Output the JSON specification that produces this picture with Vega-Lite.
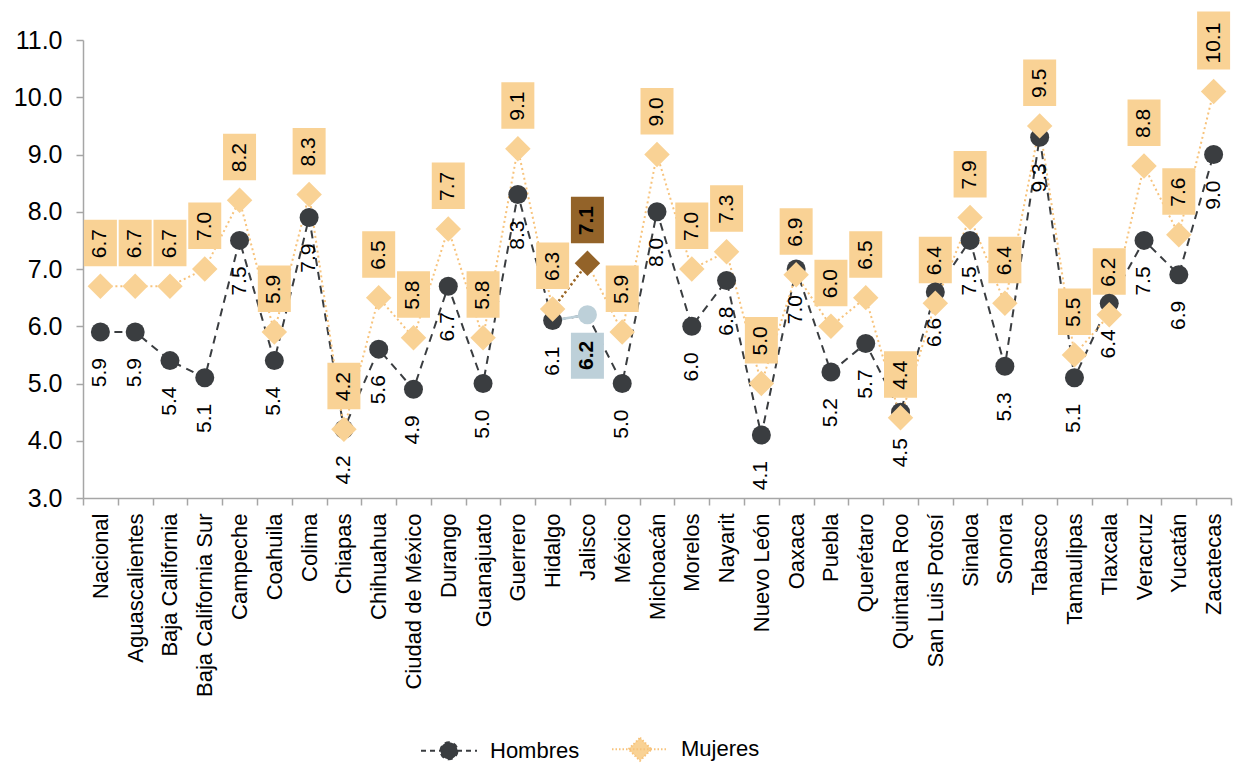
{
  "$schema": "https://vega.github.io/schema/vega-lite/v6.json",
  "width": 1148,
  "height": 458,
  "autosize": "none",
  "padding": {"left": 83, "top": 40, "right": 3, "bottom": 267},
  "background": "white",
  "config": {
    "view": {"stroke": null},
    "font": "Liberation Sans",
    "text": {"font": "Liberation Sans"}
  },
  "data": {
    "values": [
      {"estado": "Nacional", "sexo": "Hombres", "valor": 5.9},
      {"estado": "Aguascalientes", "sexo": "Hombres", "valor": 5.9},
      {"estado": "Baja California", "sexo": "Hombres", "valor": 5.4},
      {"estado": "Baja California Sur", "sexo": "Hombres", "valor": 5.1},
      {"estado": "Campeche", "sexo": "Hombres", "valor": 7.5},
      {"estado": "Coahuila", "sexo": "Hombres", "valor": 5.4},
      {"estado": "Colima", "sexo": "Hombres", "valor": 7.9},
      {"estado": "Chiapas", "sexo": "Hombres", "valor": 4.2},
      {"estado": "Chihuahua", "sexo": "Hombres", "valor": 5.6},
      {"estado": "Ciudad de México", "sexo": "Hombres", "valor": 4.9},
      {"estado": "Durango", "sexo": "Hombres", "valor": 6.7},
      {"estado": "Guanajuato", "sexo": "Hombres", "valor": 5.0},
      {"estado": "Guerrero", "sexo": "Hombres", "valor": 8.3},
      {"estado": "Hidalgo", "sexo": "Hombres", "valor": 6.1},
      {"estado": "Jalisco", "sexo": "Hombres", "valor": 6.2},
      {"estado": "México", "sexo": "Hombres", "valor": 5.0},
      {"estado": "Michoacán", "sexo": "Hombres", "valor": 8.0},
      {"estado": "Morelos", "sexo": "Hombres", "valor": 6.0},
      {"estado": "Nayarit", "sexo": "Hombres", "valor": 6.8},
      {"estado": "Nuevo León", "sexo": "Hombres", "valor": 4.1},
      {"estado": "Oaxaca", "sexo": "Hombres", "valor": 7.0},
      {"estado": "Puebla", "sexo": "Hombres", "valor": 5.2},
      {"estado": "Querétaro", "sexo": "Hombres", "valor": 5.7},
      {"estado": "Quintana Roo", "sexo": "Hombres", "valor": 4.5},
      {"estado": "San Luis Potosí", "sexo": "Hombres", "valor": 6.6},
      {"estado": "Sinaloa", "sexo": "Hombres", "valor": 7.5},
      {"estado": "Sonora", "sexo": "Hombres", "valor": 5.3},
      {"estado": "Tabasco", "sexo": "Hombres", "valor": 9.3},
      {"estado": "Tamaulipas", "sexo": "Hombres", "valor": 5.1},
      {"estado": "Tlaxcala", "sexo": "Hombres", "valor": 6.4},
      {"estado": "Veracruz", "sexo": "Hombres", "valor": 7.5},
      {"estado": "Yucatán", "sexo": "Hombres", "valor": 6.9},
      {"estado": "Zacatecas", "sexo": "Hombres", "valor": 9.0},
      {"estado": "Nacional", "sexo": "Mujeres", "valor": 6.7},
      {"estado": "Aguascalientes", "sexo": "Mujeres", "valor": 6.7},
      {"estado": "Baja California", "sexo": "Mujeres", "valor": 6.7},
      {"estado": "Baja California Sur", "sexo": "Mujeres", "valor": 7.0},
      {"estado": "Campeche", "sexo": "Mujeres", "valor": 8.2},
      {"estado": "Coahuila", "sexo": "Mujeres", "valor": 5.9},
      {"estado": "Colima", "sexo": "Mujeres", "valor": 8.3},
      {"estado": "Chiapas", "sexo": "Mujeres", "valor": 4.2},
      {"estado": "Chihuahua", "sexo": "Mujeres", "valor": 6.5},
      {"estado": "Ciudad de México", "sexo": "Mujeres", "valor": 5.8},
      {"estado": "Durango", "sexo": "Mujeres", "valor": 7.7},
      {"estado": "Guanajuato", "sexo": "Mujeres", "valor": 5.8},
      {"estado": "Guerrero", "sexo": "Mujeres", "valor": 9.1},
      {"estado": "Hidalgo", "sexo": "Mujeres", "valor": 6.3},
      {"estado": "Jalisco", "sexo": "Mujeres", "valor": 7.1},
      {"estado": "México", "sexo": "Mujeres", "valor": 5.9},
      {"estado": "Michoacán", "sexo": "Mujeres", "valor": 9.0},
      {"estado": "Morelos", "sexo": "Mujeres", "valor": 7.0},
      {"estado": "Nayarit", "sexo": "Mujeres", "valor": 7.3},
      {"estado": "Nuevo León", "sexo": "Mujeres", "valor": 5.0},
      {"estado": "Oaxaca", "sexo": "Mujeres", "valor": 6.9},
      {"estado": "Puebla", "sexo": "Mujeres", "valor": 6.0},
      {"estado": "Querétaro", "sexo": "Mujeres", "valor": 6.5},
      {"estado": "Quintana Roo", "sexo": "Mujeres", "valor": 4.4},
      {"estado": "San Luis Potosí", "sexo": "Mujeres", "valor": 6.4},
      {"estado": "Sinaloa", "sexo": "Mujeres", "valor": 7.9},
      {"estado": "Sonora", "sexo": "Mujeres", "valor": 6.4},
      {"estado": "Tabasco", "sexo": "Mujeres", "valor": 9.5},
      {"estado": "Tamaulipas", "sexo": "Mujeres", "valor": 5.5},
      {"estado": "Tlaxcala", "sexo": "Mujeres", "valor": 6.2},
      {"estado": "Veracruz", "sexo": "Mujeres", "valor": 8.8},
      {"estado": "Yucatán", "sexo": "Mujeres", "valor": 7.6},
      {"estado": "Zacatecas", "sexo": "Mujeres", "valor": 10.1}
    ]
  },
  "encoding": {
    "x": {
      "field": "estado",
      "type": "nominal",
      "sort": ["Nacional", "Aguascalientes", "Baja California", "Baja California Sur", "Campeche", "Coahuila", "Colima", "Chiapas", "Chihuahua", "Ciudad de México", "Durango", "Guanajuato", "Guerrero", "Hidalgo", "Jalisco", "México", "Michoacán", "Morelos", "Nayarit", "Nuevo León", "Oaxaca", "Puebla", "Querétaro", "Quintana Roo", "San Luis Potosí", "Sinaloa", "Sonora", "Tabasco", "Tamaulipas", "Tlaxcala", "Veracruz", "Yucatán", "Zacatecas"],
      "scale": {"type": "band", "paddingInner": 0, "paddingOuter": 0},
      "title": null,
      "axis": {
        "labelAngle": 270,
        "labelFontSize": 22,
        "labelColor": "black",
        "labelPadding": 8,
        "labelLimit": 400,
        "tickBand": "extent",
        "tickSize": 7,
        "tickColor": "#a6a6a6",
        "domainColor": "#a6a6a6",
        "domainWidth": 1.5,
        "tickWidth": 1.5,
        "grid": false
      }
    },
    "y": {
      "field": "valor",
      "type": "quantitative",
      "scale": {"domain": [3, 11], "nice": false, "zero": false},
      "title": null,
      "axis": {
        "values": [3, 4, 5, 6, 7, 8, 9, 10, 11],
        "format": ".1f",
        "labelFontSize": 25,
        "labelColor": "black",
        "labelPadding": 14,
        "tickSize": 7,
        "tickColor": "#a6a6a6",
        "domainColor": "#a6a6a6",
        "domainWidth": 1.5,
        "tickWidth": 1.5,
        "grid": false
      }
    }
  },
  "layer": [
    {
      "transform": [{"filter": "datum.sexo === 'Hombres'"}],
      "mark": {"type": "line", "color": "#3a3d40", "strokeWidth": 2, "strokeDash": [8, 6]}
    },
    {
      "transform": [{"filter": "datum.sexo === 'Mujeres'"}],
      "mark": {"type": "line", "color": "#f7c37c", "strokeWidth": 2, "strokeDash": [2, 3]}
    },
    {
      "transform": [{"filter": "datum.sexo === 'Hombres' && (datum.estado === 'Hidalgo' || datum.estado === 'Jalisco')"}],
      "mark": {"type": "line", "color": "#bdd0d9", "strokeWidth": 2.5}
    },
    {
      "transform": [{"filter": "datum.sexo === 'Mujeres' && (datum.estado === 'Hidalgo' || datum.estado === 'Jalisco')"}],
      "mark": {"type": "line", "color": "#936329", "strokeWidth": 2.5, "strokeDash": [2, 3]}
    },
    {
      "transform": [{"filter": "datum.sexo === 'Mujeres' && datum.valor < 10"}],
      "mark": {"type": "point", "filled": true, "opacity": 1, "size": 40000, "shape": "M-0.165,-0.2L0.165,-0.2L0.165,-0.665L-0.165,-0.665Z"},
      "encoding": {
        "color": {"condition": {"test": "datum.estado === 'Jalisco'", "value": "#936329"}, "value": "#f9d295"}
      }
    },
    {
      "transform": [{"filter": "datum.sexo === 'Mujeres' && datum.valor >= 10"}],
      "mark": {"type": "point", "filled": true, "opacity": 1, "size": 40000, "shape": "M-0.165,-0.22L0.165,-0.22L0.165,-0.8L-0.165,-0.8Z", "color": "#f9d295"}
    },
    {
      "transform": [{"filter": "datum.sexo === 'Hombres' && datum.estado === 'Jalisco'"}],
      "mark": {"type": "point", "filled": true, "opacity": 1, "size": 40000, "shape": "M-0.165,0.18L0.165,0.18L0.165,0.64L-0.165,0.64Z", "color": "#bdd0d9"}
    },
    {
      "transform": [{"filter": "datum.sexo === 'Hombres' && datum.estado !== 'Jalisco'"}],
      "mark": {"type": "point", "filled": true, "opacity": 1, "size": 361, "shape": "circle", "color": "#3a3d40"}
    },
    {
      "transform": [{"filter": "datum.sexo === 'Mujeres' && datum.estado !== 'Jalisco'"}],
      "mark": {"type": "point", "filled": true, "opacity": 1, "size": 650, "shape": "diamond", "color": "#f9d295"}
    },
    {
      "transform": [{"filter": "datum.sexo === 'Hombres' && datum.estado === 'Jalisco'"}],
      "mark": {"type": "point", "filled": true, "opacity": 1, "size": 361, "shape": "circle", "color": "#bdd0d9"}
    },
    {
      "transform": [{"filter": "datum.sexo === 'Mujeres' && datum.estado === 'Jalisco'"}],
      "mark": {"type": "point", "filled": true, "opacity": 1, "size": 650, "shape": "diamond", "color": "#936329"}
    },
    {
      "transform": [{"filter": "datum.estado === 'Nacional'"}],
      "mark": {"type": "point", "opacity": 0, "size": 400, "strokeWidth": 2},
      "encoding": {
        "fill": {
          "field": "sexo", "type": "nominal",
          "scale": {"domain": ["Hombres", "Mujeres"], "range": ["#3a3d40", "#f9d295"]},
          "legend": {"title": null, "orient": "none", "legendX": 355, "legendY": 698, "direction": "horizontal", "labelFontSize": 22, "labelColor": "black", "symbolSize": 400, "symbolOpacity": 1, "symbolStrokeWidth": 2, "labelOffset": 30, "columnPadding": 28}
        },
        "stroke": {
          "field": "sexo", "type": "nominal",
          "scale": {"domain": ["Hombres", "Mujeres"], "range": ["#3a3d40", "#f7c37c"]},
          "legend": {"title": null, "orient": "none", "legendX": 355, "legendY": 698, "direction": "horizontal", "labelFontSize": 22, "labelColor": "black", "symbolSize": 400, "symbolOpacity": 1, "symbolStrokeWidth": 2, "labelOffset": 30, "columnPadding": 28}
        },
        "shape": {
          "field": "sexo", "type": "nominal",
          "scale": {"domain": ["Hombres", "Mujeres"], "range": ["M-2.8,0H2.8M-0.85,0A0.85,0.85 0 1,1 0.85,0A0.85,0.85 0 1,1 -0.85,0Z", "M-2.8,0H2.8M0,-1.15L1.15,0L0,1.15L-1.15,0Z"]},
          "legend": {"title": null, "orient": "none", "legendX": 355, "legendY": 698, "direction": "horizontal", "labelFontSize": 22, "labelColor": "black", "symbolSize": 400, "symbolOpacity": 1, "symbolStrokeWidth": 2, "labelOffset": 30, "columnPadding": 28}
        },
        "strokeDash": {
          "field": "sexo", "type": "nominal",
          "scale": {"domain": ["Hombres", "Mujeres"], "range": [[5, 4], [1.5, 2]]},
          "legend": {"title": null, "orient": "none", "legendX": 355, "legendY": 698, "direction": "horizontal", "labelFontSize": 22, "labelColor": "black", "symbolSize": 400, "symbolOpacity": 1, "symbolStrokeWidth": 2, "labelOffset": 30, "columnPadding": 28}
        }
      }
    },
    {
      "transform": [{"filter": "datum.sexo === 'Hombres' && datum.estado !== 'Jalisco'"}],
      "mark": {"type": "text", "angle": 270, "align": "right", "baseline": "middle", "dx": -26, "fontSize": 21, "color": "black"},
      "encoding": {"text": {"field": "valor", "type": "quantitative", "format": ".1f"}}
    },
    {
      "transform": [{"filter": "datum.sexo === 'Hombres' && datum.estado === 'Jalisco'"}],
      "mark": {"type": "text", "angle": 270, "align": "right", "baseline": "middle", "dx": -26, "fontSize": 21, "fontWeight": "bold", "color": "black"},
      "encoding": {"text": {"field": "valor", "type": "quantitative", "format": ".1f"}}
    },
    {
      "transform": [{"filter": "datum.sexo === 'Mujeres' && datum.estado !== 'Jalisco'"}],
      "mark": {"type": "text", "angle": 270, "align": "left", "baseline": "middle", "dx": 28, "fontSize": 21, "color": "black"},
      "encoding": {"text": {"field": "valor", "type": "quantitative", "format": ".1f"}}
    },
    {
      "transform": [{"filter": "datum.sexo === 'Mujeres' && datum.estado === 'Jalisco'"}],
      "mark": {"type": "text", "angle": 270, "align": "left", "baseline": "middle", "dx": 28, "fontSize": 21, "fontWeight": "bold", "color": "black"},
      "encoding": {"text": {"field": "valor", "type": "quantitative", "format": ".1f"}}
    }
  ]
}
